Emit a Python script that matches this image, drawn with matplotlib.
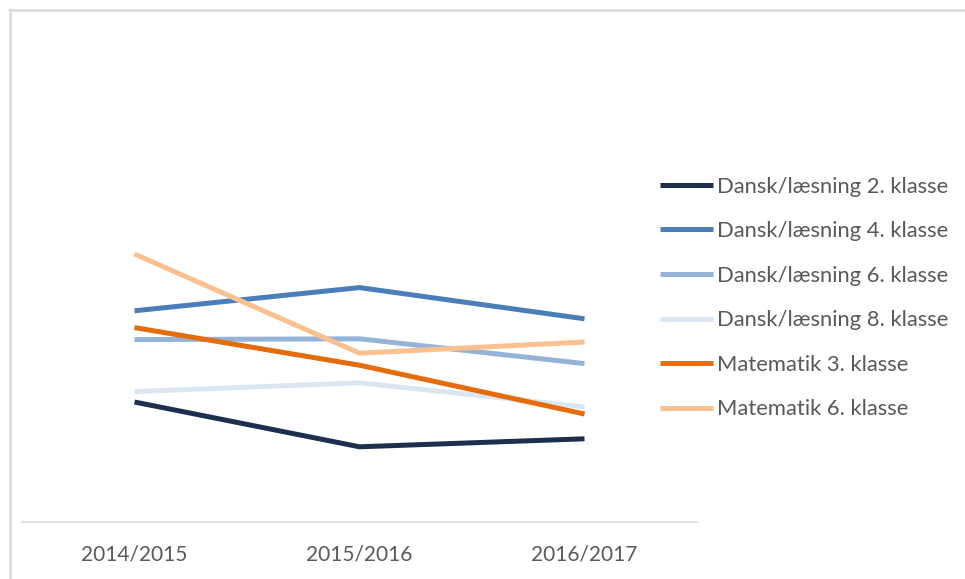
import matplotlib
matplotlib.use('Agg')
import matplotlib.pyplot as plt
from matplotlib.lines import Line2D

# data
years = ['2014/2015', '2015/2016', '2016/2017']
dansk_2 = [15.0, 9.4, 10.4]
dansk_4 = [26.4, 29.3, 25.4]
dansk_6 = [22.8, 22.9, 19.8]
dansk_8 = [16.3, 17.4, 14.4]
mat_3 = [24.3, 19.6, 13.5]
mat_6 = [33.5, 21.1, 22.5]

labels = ['Dansk/læsning 2. klasse', 'Dansk/læsning 4. klasse',
          'Dansk/læsning 6. klasse', 'Dansk/læsning 8. klasse',
          'Matematik 3. klasse', 'Matematik 6. klasse']
series = [dansk_2, dansk_4, dansk_6, dansk_8, mat_3, mat_6]
colors = ['#1c2f4f', '#4a7ebb', '#95b3d7', '#dce6f2', '#e46c0a', '#fac090']

plt.rcParams['font.family'] = ['Lato', 'DejaVu Sans']

fig = plt.figure(figsize=(9.65, 5.79), dpi=100)
ax = fig.add_axes([22/965, 57/579, 675/965, 480/579])

x = range(len(years))
for vals, c, lab in zip(series, colors, labels):
    ax.plot(x, vals, color=c, lw=3.6, label=lab, solid_capstyle='butt')

ax.set_xlim(-0.5, 2.5)
ax.set_ylim(0, 60)
ax.set_xticks(list(x))
ax.set_xticklabels(years, fontsize=15, color='#595959')
ax.tick_params(axis='x', length=0, pad=16)
ax.set_yticks([])
for s in ['top', 'right', 'left']:
    ax.spines[s].set_visible(False)
ax.spines['bottom'].set_color('#d9d9d9')
ax.spines['bottom'].set_linewidth(1.2)

# legend
leg = fig.legend(loc='center left', bbox_to_anchor=(660/965, 1 - 298/579),
                 frameon=False, fontsize=15.8, labelcolor='#595959',
                 handlelength=2.4, handletextpad=0.22, labelspacing=1.12,
                 borderpad=0, borderaxespad=0)

# outer frame (partly cut off)
fig.add_artist(Line2D([10/965, 10/965], [0, 1 - 10/579], color='#d9d9d9', lw=1.8))
fig.add_artist(Line2D([10/965, 1], [1 - 10/579, 1 - 10/579], color='#d9d9d9', lw=1.8))

fig.savefig('out.png', dpi=100)
